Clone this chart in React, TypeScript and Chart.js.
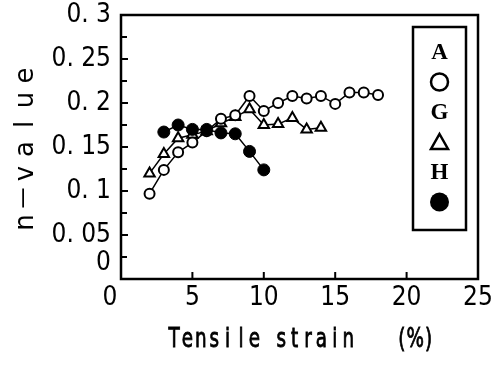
import React, { useEffect, useRef } from "react";
import { Chart, registerables } from "chart.js";

Chart.register(...registerables);

// ---- data ----
const strainA = [2, 3, 4, 5, 6, 7, 8, 9, 10, 11, 12, 13, 14, 15, 16, 17, 18];
const nValueA = [0.097, 0.124, 0.144, 0.155, 0.168, 0.182, 0.186, 0.208, 0.191, 0.2, 0.208, 0.205, 0.208, 0.199, 0.212, 0.212, 0.209];
const strainG = [2, 3, 4, 5, 6, 7, 8, 9, 10, 11, 12, 13, 14];
const nValueG = [0.12, 0.142, 0.16, 0.164, 0.168, 0.177, 0.184, 0.193, 0.175, 0.176, 0.183, 0.17, 0.172];
const strainH = [3, 4, 5, 6, 7, 8, 9, 10];
const nValueH = [0.167, 0.175, 0.17, 0.17, 0.166, 0.165, 0.145, 0.124];

const seriesLabels = ["A", "G", "H"];
const xTickValues = [0, 5, 10, 15, 20, 25];
const yTickValues = [0, 0.05, 0.1, 0.15, 0.2, 0.25, 0.3];
const xTitle = "Tensile strain   (%)";
const yTitle = "n－value";

const tickFont = "'Liberation Sans Narrow', 'DejaVu Sans Condensed', 'Liberation Sans', sans-serif";

function toPoints(xs: number[], ys: number[]) {
  return xs.map((x, i) => ({ x, y: ys[i] }));
}

function fmtY(v: number): string | string[] {
  const r = Math.round(v * 1000) / 1000;
  if (r === 0) return ["0", ""];
  return String(r).replace(".", ". ");
}

const decorPlugin = {
  id: "decor",
  afterDraw(chart: any) {
    const { ctx, chartArea } = chart;
    const { left, right, top, bottom } = chartArea;
    const xs = chart.scales.x;
    const ys = chart.scales.y;
    ctx.save();
    ctx.strokeStyle = "#000";
    ctx.fillStyle = "#000";

    // frame
    ctx.lineWidth = 2.5;
    ctx.strokeRect(left, top, right - left, bottom - top);

    // inner ticks on y (major + minor)
    ctx.lineWidth = 2;
    ctx.beginPath();
    for (let i = 0; i < yTickValues.length; i++) {
      const v = yTickValues[i];
      const p = ys.getPixelForValue(v);
      ctx.moveTo(left, p);
      ctx.lineTo(left + 7, p);
      if (i < yTickValues.length - 1) {
        const m = ys.getPixelForValue((v + yTickValues[i + 1]) / 2);
        ctx.moveTo(left, m);
        ctx.lineTo(left + 6, m);
      }
    }
    // inner ticks on x
    for (const v of xTickValues) {
      if (v === xs.min || v === xs.max) continue;
      const p = xs.getPixelForValue(v);
      ctx.moveTo(p, bottom);
      ctx.lineTo(p, bottom - 7);
    }
    ctx.stroke();

    // x title (condensed, evenly pitched letters)
    ctx.font = "27px 'DejaVu Sans', sans-serif";
    ctx.textAlign = "center";
    ctx.textBaseline = "alphabetic";
    ctx.lineWidth = 0.9;
    const xPitch = 13.4;
    const xStart = 174;
    for (let i = 0; i < xTitle.length; i++) {
      const ch = xTitle[i];
      if (ch === " ") continue;
      ctx.save();
      ctx.translate(xStart + i * xPitch, 347);
      ctx.scale(0.68, 1);
      ctx.fillText(ch, 0, 0);
      ctx.strokeText(ch, 0, 0);
      ctx.restore();
    }

    // y title (rotated, evenly pitched letters)
    ctx.font = "26px 'DejaVu Sans', 'Noto Sans CJK JP', sans-serif";
    ctx.save();
    ctx.translate(33, 149);
    ctx.rotate(-Math.PI / 2);
    const yPitch = 24.5;
    const n = yTitle.length;
    for (let i = 0; i < n; i++) {
      ctx.fillText(yTitle[i], (i - (n - 1) / 2) * yPitch, 0);
    }
    ctx.restore();

    // legend box
    const bw = 53;
    const bh = 203;
    const bx = right - 12 - bw;
    const by = top + 12;
    ctx.lineWidth = 2.5;
    ctx.strokeRect(bx, by, bw, bh);
    const cx = bx + bw / 2;
    ctx.font = "bold 23px 'Liberation Serif', serif";
    ctx.textBaseline = "middle";
    seriesLabels.forEach((lab, i) => {
      const ds: any = chart.data.datasets.find((d: any) => d.label === lab);
      if (!ds) return;
      const ly = by + 25 + i * 60;
      ctx.fillStyle = "#000";
      ctx.fillText(ds.label, cx, ly + 1);
      const sy = by + 55 + i * 60;
      ctx.lineWidth = 2.5;
      if (ds.pointStyle === "triangle") {
        ctx.beginPath();
        ctx.moveTo(cx, sy - 8);
        ctx.lineTo(cx + 8.5, sy + 7);
        ctx.lineTo(cx - 8.5, sy + 7);
        ctx.closePath();
        ctx.fillStyle = "#fff";
        ctx.fill();
        ctx.stroke();
      } else {
        ctx.beginPath();
        const filled = ds.pointBackgroundColor === "#000";
        ctx.arc(cx, sy, filled ? 9.5 : 8.5, 0, Math.PI * 2);
        ctx.fillStyle = filled ? "#000" : "#fff";
        ctx.fill();
        if (!filled) ctx.stroke();
      }
    });
    ctx.restore();
  },
};

export default function App() {
  const ref = useRef<HTMLCanvasElement | null>(null);

  useEffect(() => {
    if (!ref.current) return;
    const chart = new Chart(ref.current, {
      type: "line",
      data: {
        datasets: [
          {
            label: seriesLabels[2],
            data: toPoints(strainH, nValueH),
            borderColor: "#000",
            borderWidth: 1.5,
            pointStyle: "circle",
            pointRadius: 6,
            pointBorderWidth: 1,
            pointBackgroundColor: "#000",
            pointBorderColor: "#000",
            order: 0,
          } as any,
          {
            label: seriesLabels[0],
            data: toPoints(strainA, nValueA),
            borderColor: "#000",
            borderWidth: 1.5,
            pointStyle: "circle",
            pointRadius: 5,
            pointBorderWidth: 2,
            pointBackgroundColor: "#fff",
            pointBorderColor: "#000",
            order: 1,
          },
          {
            label: seriesLabels[1],
            data: toPoints(strainG, nValueG),
            borderColor: "#000",
            borderWidth: 1.5,
            pointStyle: "triangle",
            pointRadius: 6,
            pointBorderWidth: 2,
            pointBackgroundColor: "#fff",
            pointBorderColor: "#000",
            order: 2,
          },
        ],
      },
      options: {
        animation: false,
        responsive: false,
        devicePixelRatio: 1,
        layout: { padding: { top: 15, right: 19, left: 0, bottom: 0 } },
        plugins: {
          legend: { display: false },
          tooltip: { enabled: false },
        },
        scales: {
          x: {
            type: "linear",
            min: 0,
            max: 25,
            afterBuildTicks: (s: any) => {
              s.ticks = xTickValues.map((v) => ({ value: v }));
            },
            afterFit: (s: any) => {
              s.height = 86;
              s.paddingLeft = 0;
              s.paddingRight = 0;
            },
            grid: { display: false, drawTicks: false },
            border: { display: false },
            ticks: {
              color: "#000",
              padding: 4,
              maxRotation: 0,
              autoSkip: false,
              font: { family: tickFont, size: 26 },
              callback: (v: any) => (Number(v) === 0 ? "0   " : String(v)),
            },
          },
          y: {
            type: "linear",
            min: 0,
            max: 0.3,
            afterBuildTicks: (s: any) => {
              s.ticks = yTickValues.map((v) => ({ value: v }));
            },
            afterFit: (s: any) => {
              s.width = 121;
              s.paddingTop = 0;
              s.paddingBottom = 0;
            },
            grid: { display: false, drawTicks: false },
            border: { display: false },
            ticks: {
              color: "#000",
              padding: 10,
              autoSkip: false,
              font: { family: tickFont, size: 26 },
              callback: (v: any) => fmtY(Number(v)),
            },
          },
        },
      },
      plugins: [decorPlugin],
    });
    return () => chart.destroy();
  }, []);

  return (
    <div style={{ position: "absolute", left: 0, top: 0, width: 497, height: 365, background: "#fff" }}>
      <canvas ref={ref} width={497} height={365} style={{ display: "block", width: 497, height: 365 }} />
    </div>
  );
}
